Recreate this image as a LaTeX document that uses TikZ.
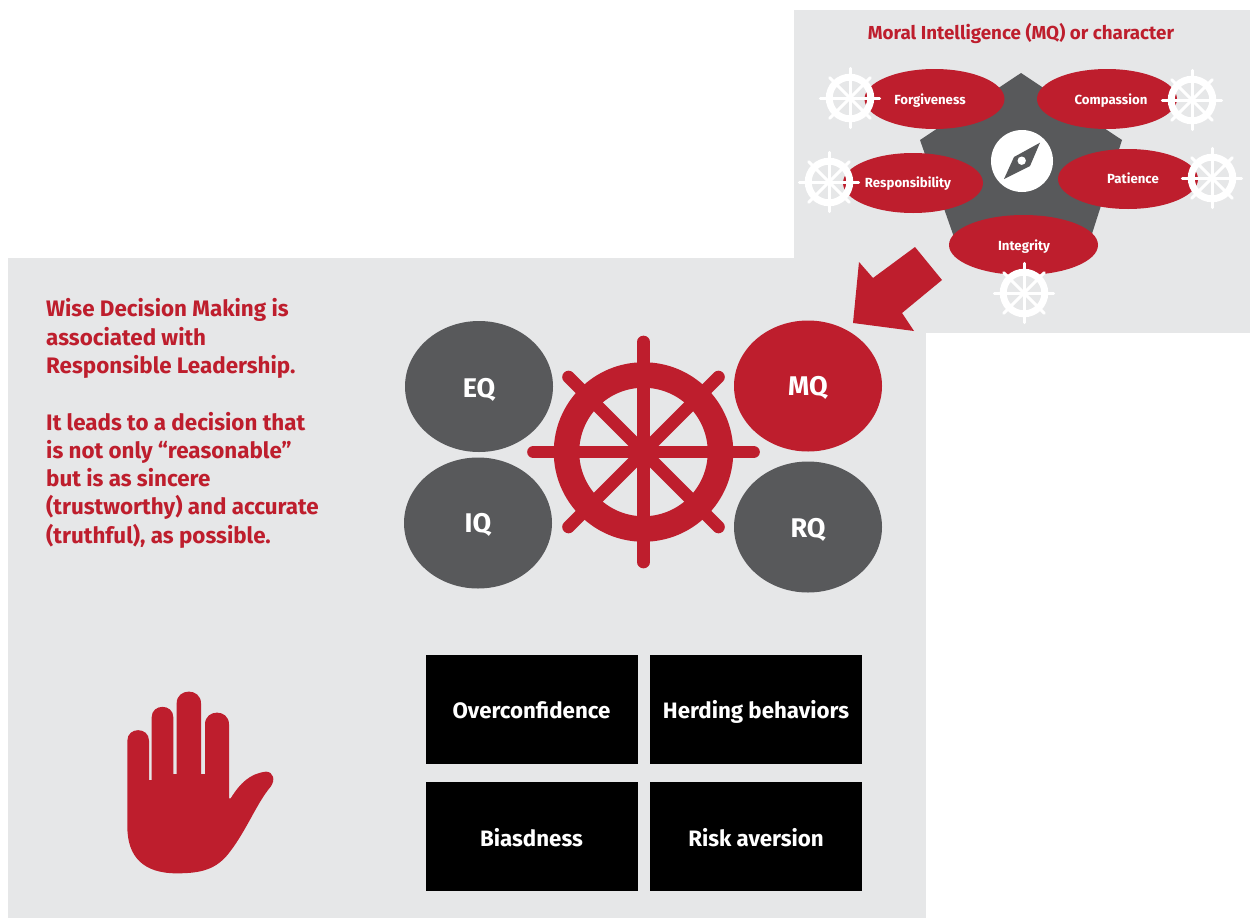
\documentclass[tikz,border=0pt]{standalone}
\usepackage{fontspec}
\setmainfont{Fira Sans}
\definecolor{wred}{HTML}{BE1E2D}
\definecolor{wgray}{HTML}{58595B}
\definecolor{wpanel}{HTML}{E6E7E8}
\usetikzlibrary{shapes.geometric}
\tikzset{
  panel/.style={fill=wpanel,draw=none},
  bigoval/.style={ellipse,minimum width=148pt,minimum height=131pt,inner sep=0pt},
  bigtext/.style={text=white,inner sep=0pt,text height=19pt,text depth=0pt,font=\fontsize{27}{30}\selectfont\bfseries},
  smalloval/.style={ellipse,fill=wred,minimum width=140pt,minimum height=60pt,inner sep=0pt},
  smalltext/.style={text=white,inner sep=0pt,text height=9pt,text depth=3pt,font=\fontsize{13.2}{15}\selectfont\bfseries},
  blackbox/.style={rectangle,fill=black,minimum width=212pt,minimum height=109pt,inner sep=0pt},
  boxtext/.style={text=white,inner sep=0pt,text height=16pt,text depth=0pt,font=\fontsize{22.3}{25}\selectfont\bfseries},
  redtext/.style={text=wred,font=\fontsize{22.4}{28.3}\selectfont\bfseries,inner sep=0pt},
}
% #1 centre, #2 scale, #3 colour, #4 spoke width
\newcommand{\steerwheel}[4]{%
  \begin{scope}[shift={#1},scale=#2,line cap=round]
    \draw[#3,line width=#2*25.5pt] (0,0) circle (77);
    \foreach \a in {0,90,180,270}
      \draw[#3,line width=#4] (\a:110) -- (\a+180:0);
    \foreach \a in {45,135,225,315}
      \draw[#3,line width=#4] (\a:106) -- (\a+180:0);
  \end{scope}}
\begin{document}
\begin{tikzpicture}[x=1pt,y=-1pt]
\useasboundingbox (0,0) rectangle (1250,918);
\fill[white] (0,0) rectangle (1250,918);
\fill[panel] (794,10) rectangle (1250,333);
\fill[panel] (8,258) rectangle (926,918);

% top panel
\node[text=wred,font=\fontsize{18.8}{22}\selectfont\bfseries,inner sep=0pt] (title) at (1021,34) {Moral Intelligence (MQ) or character};
\fill[wgray] (1021,73) -- (1122,140) -- (1090,240) -- (955,240) -- (920,140) -- cycle;
\node[circle,fill=white,minimum size=62pt,inner sep=0pt] (compass) at (1022,161) {};
\fill[wgray] (1040,142.7) -- (1030,166) -- (1004,179) -- (1014,157) -- cycle;
\fill[white] (1021.7,160.7) circle (4.2);
\node[smalloval] (forg) at (934.5,99) {};
\node[smalloval] (comp) at (1107,99) {};
\node[smalloval] (resp) at (913,183) {};
\node[smalloval] (pati) at (1128,179) {};
\node[smalloval,minimum width=149pt] (inte) at (1023.5,245) {};
\node[smalltext] (forgt) at (930,101) {Forgiveness};
\node[smalltext] (compt) at (1111,101) {Compassion};
\node[smalltext] (respt) at (908,184.5) {Responsibility};
\node[smalltext] (patit) at (1133,180.5) {Patience};
\node[smalltext] (intet) at (1024,247) {Integrity};
\steerwheel{(850,98)}{0.27}{white}{3pt}
\steerwheel{(1192,100)}{0.27}{white}{3pt}
\steerwheel{(829,182)}{0.27}{white}{3pt}
\steerwheel{(1212,178)}{0.27}{white}{3pt}
\steerwheel{(1024,293)}{0.27}{white}{3pt}

% big arrow
\fill[wred] (915,247) -- (942,280) -- (902,313) -- (914,331) -- (853,323) -- (859,262) -- (873,278) -- cycle;

% left text
\node[redtext,anchor=north west,align=left] (wise) at (46,298.5) {Wise Decision Making is\\associated with\\Responsible Leadership.\\[28.3pt]It leads to a decision that\\is not only “reasonable”\\but is as sincere\\(trustworthy) and accurate\\(truthful), as possible.};

% ovals and wheel
\node[bigoval,fill=wgray] (eq) at (479,386.5) {};
\node[bigoval,fill=wred] (mq) at (808,386) {};
\node[bigoval,fill=wgray] (iq) at (478,523) {};
\node[bigoval,fill=wgray] (rq) at (808,527) {};
\node[bigtext] (eqt) at (479,388) {EQ};
\node[bigtext] (mqt) at (808,386) {MQ};
\node[bigtext] (iqt) at (478,523) {IQ};
\node[bigtext] (rqt) at (808,528) {RQ};
\steerwheel{(643.5,452)}{1}{wred}{12.7pt}

% boxes
\node[blackbox] (over) at (531.5,709.5) {};
\node[blackbox] (herd) at (756,709.5) {};
\node[blackbox] (bias) at (531.5,836.5) {};
\node[blackbox] (risk) at (756,836.5) {};
\node[boxtext] (overt) at (531.5,710.5) {Overconfidence};
\node[boxtext] (herdt) at (756,710.5) {Herding behaviors};
\node[boxtext] (biast) at (531.5,838) {Biasdness};
\node[boxtext] (riskt) at (756,838) {Risk aversion};

% hand
\begin{scope}[shift={(100,670)},scale=1/3]
\fill[wred] (82,212) .. controls (82,170) and (147,170) .. (147,212) -- (147,330) -- (155,330)
  -- (155,142) .. controls (155,100) and (220,100) .. (220,142) -- (220,312) -- (230,312)
  -- (230,100) .. controls (230,53) and (303,53) .. (303,100) -- (303,312) -- (315,312)
  -- (315,163) .. controls (315,116) and (387,116) .. (387,163) -- (387,385) -- (392,385)
  .. controls (420,340) and (450,310) .. (498,305) .. controls (520,305) and (527,330) .. (512,350)
  .. controls (470,400) and (440,480) .. (390,545) .. controls (350,600) and (300,610) .. (230,610)
  .. controls (130,610) and (82,560) .. (82,470) -- cycle;
\end{scope}
\end{tikzpicture}
\end{document}
